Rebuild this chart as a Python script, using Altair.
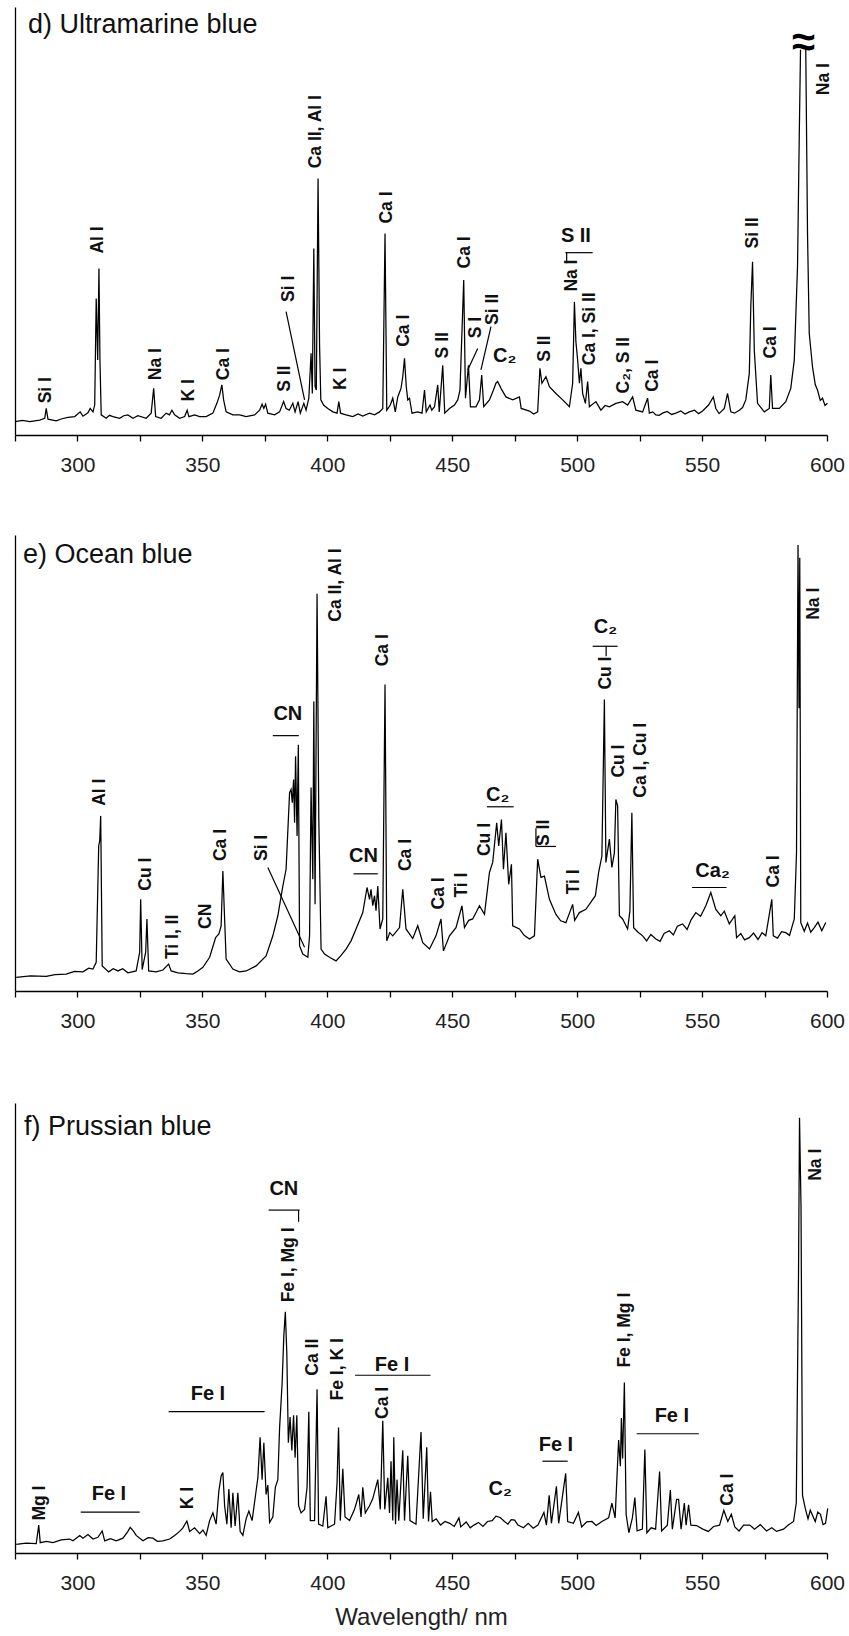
import altair as alt
import pandas as pd

FONT = "Liberation Sans"

# ---------------- Panel d) Ultramarine blue : (wavelength nm, relative intensity %) ----------------
d_spectrum = [
    (275.1, 3.1), (278.0, 3.4), (280.9, 3.1), (284.9, 3.5), (286.9, 3.9), (287.5, 6.2), (288.2, 3.7), (291.5, 3.3),
    (293.8, 3.8), (296.2, 4.1), (298.9, 4.3), (301.1, 5.4), (302.2, 4.4), (304.2, 5.2), (305.1, 6.2), (306.2, 5.4),
    (306.9, 7.0), (307.5, 31.9), (308.1, 17.5), (308.6, 38.9), (309.0, 17.5), (309.5, 4.7), (311.5, 3.9), (312.8, 4.6),
    (314.2, 4.3), (316.9, 3.9), (318.5, 4.5), (320.2, 4.7), (322.2, 3.9), (324.2, 4.5), (327.5, 3.9), (329.5, 5.1),
    (330.5, 10.9), (331.3, 4.3), (333.5, 3.9), (335.5, 5.1), (336.8, 4.7), (337.8, 5.8), (338.9, 4.7), (340.9, 3.9),
    (342.9, 4.3), (343.9, 5.8), (344.6, 4.3), (346.9, 4.7), (348.9, 4.3), (351.5, 4.3), (354.2, 5.1), (355.8, 7.4),
    (356.9, 9.3), (357.8, 11.7), (358.5, 8.2), (359.5, 5.4), (362.2, 4.7), (364.9, 4.7), (367.5, 4.3), (370.9, 4.7),
    (372.9, 5.8), (373.9, 7.2), (374.6, 6.2), (375.3, 7.2), (376.2, 5.1), (378.9, 4.7), (380.9, 5.4), (382.5, 7.8),
    (383.5, 6.2), (384.8, 5.8), (386.2, 7.4), (387.1, 5.4), (388.3, 7.8), (389.2, 5.1), (390.6, 7.4), (391.5, 5.8),
    (392.6, 8.6), (393.5, 19.1), (394.0, 9.7), (394.6, 43.6), (395.1, 11.3), (395.6, 10.5), (396.3, 59.9), (396.9, 21.0),
    (397.4, 8.2), (398.5, 7.0), (400.2, 6.2), (402.2, 5.4), (403.9, 5.1), (404.6, 7.8), (405.3, 5.1), (407.5, 4.7),
    (410.2, 4.3), (412.3, 4.9), (414.2, 4.4), (416.9, 5.1), (418.9, 4.7), (420.9, 5.4), (422.2, 6.2), (423.1, 47.1),
    (423.8, 5.8), (425.2, 7.0), (426.2, 8.6), (427.2, 5.4), (428.2, 8.9), (429.5, 10.9), (430.2, 13.6), (430.9, 17.9),
    (431.6, 11.3), (432.2, 8.2), (432.9, 8.6), (433.9, 5.1), (436.2, 5.4), (437.9, 5.1), (438.9, 10.5), (439.6, 5.4),
    (441.1, 7.0), (441.8, 5.8), (442.9, 6.6), (444.2, 11.7), (444.8, 5.4), (446.2, 16.3), (447.0, 5.1), (448.9, 6.2),
    (450.9, 7.0), (452.2, 8.2), (453.1, 10.5), (454.6, 36.2), (455.3, 8.6), (456.5, 16.3), (457.3, 6.6), (459.5, 6.6),
    (460.9, 8.2), (461.8, 14.0), (462.6, 6.6), (464.9, 8.2), (466.5, 10.5), (467.5, 12.1), (468.2, 12.5), (469.5, 10.9),
    (471.5, 8.9), (474.2, 8.2), (476.9, 8.9), (477.6, 6.2), (480.9, 5.6), (482.6, 4.9), (484.2, 5.4), (485.1, 15.6),
    (485.9, 12.1), (487.5, 13.6), (488.9, 11.3), (491.5, 9.7), (494.2, 8.2), (496.9, 6.6), (498.2, 12.1), (498.9, 31.1),
    (499.5, 21.8), (500.2, 17.5), (500.9, 12.1), (501.5, 15.6), (502.2, 9.7), (503.3, 7.4), (504.2, 12.5), (504.9, 6.6),
    (507.5, 7.8), (509.5, 5.8), (511.2, 6.9), (512.9, 6.6), (515.5, 7.4), (518.2, 7.8), (520.2, 7.0), (522.2, 8.9),
    (523.5, 5.8), (526.2, 5.4), (528.2, 8.6), (528.9, 5.1), (530.3, 5.4), (531.5, 4.7), (532.8, 4.6), (534.2, 5.1),
    (536.0, 5.5), (537.8, 4.8), (539.5, 5.1), (541.5, 5.6), (543.2, 4.9), (544.9, 5.4), (547.0, 5.8), (548.6, 5.0),
    (550.2, 5.6), (552.6, 7.0), (554.5, 8.9), (555.5, 6.2), (556.8, 5.0), (558.9, 6.2), (560.2, 9.7), (561.5, 5.4),
    (563.0, 5.1), (564.9, 5.8), (566.2, 6.4), (567.5, 8.2), (568.9, 14.4), (569.5, 30.0), (570.2, 40.5), (570.9, 19.8),
    (572.2, 7.4), (574.9, 5.4), (576.9, 6.2), (577.5, 14.0), (578.2, 6.2), (580.9, 6.2), (583.5, 7.8), (585.5, 10.9),
    (586.9, 17.5), (588.2, 39.3), (588.9, 70.0), (589.4, 90.0), (591.5, 90.0), (592.2, 47.1), (592.9, 23.7),
    (594.2, 15.9), (595.3, 11.8), (596.2, 10.5), (597.3, 8.1), (598.2, 8.6), (599.2, 6.9), (600.2, 7.4),
]
d_break_at = 590.0  # the Na I line is cut at its top (wavy break sign)

d_rot_text = ["Si I", "Al I", "Na I", "K I", "Ca I", "S II", "Si I", "Ca II, Al I", "K I", "Ca I", "Ca I",
              "S II", "Ca I", "S I", "Si II", "S II", "Na I", "Ca I, Si II", "C₂, S II", "Ca I", "Si II", "Ca I", "Na I"]
d_rot_wl = [287.3, 308.2, 331.3, 344.5, 358.5, 382.9, 384.5, 395.5, 405.5, 423.9, 430.6,
            446.2, 455.3, 459.5, 466.5, 487.1, 497.8, 505.3, 518.9, 530.2, 570.2, 577.5, 598.9]
d_rot_y = [7.4, 42.4, 12.8, 7.8, 12.8, 10.1, 31.1, 62.3, 10.5, 49.4, 20.6,
           17.9, 38.9, 22.6, 25.7, 17.1, 33.5, 16.3, 9.7, 10.1, 43.6, 17.9, 79.4]

d_hor_text = ["C₂", "S II"]
d_hor_wl = [471.0, 499.5]
d_hor_y = [17.1, 45.1]

d_break_text = ["≈"]
d_break_wl = [590.6]
d_break_y = [91.5]

d_ln_x1 = [383.5, 460.2, 465.5, 495.3, 495.8]
d_ln_x2 = [390.9, 456.2, 461.5, 506.2, 495.8]
d_ln_y1 = [28.8, 20.2, 25.3, 42.6, 42.6]
d_ln_y2 = [8.2, 15.2, 15.2, 42.6, 40.1]

# ---------------- Panel e) Ocean blue ----------------
e_spectrum = [
    (275.5, 3.0), (281.2, 3.3), (287.5, 3.2), (291.0, 3.6), (295.5, 3.7), (298.8, 4.3), (302.2, 4.2), (304.5, 5.0),
    (306.2, 4.8), (307.5, 6.3), (308.5, 31.8), (308.9, 32.9), (309.3, 38.4), (309.9, 5.5), (312.5, 4.2), (314.3, 4.9),
    (316.2, 4.4), (318.1, 4.9), (320.2, 4.0), (323.5, 4.4), (324.9, 8.5), (325.3, 20.1), (325.9, 4.7), (327.3, 8.5),
    (327.8, 15.8), (328.5, 4.4), (331.5, 4.2), (334.2, 4.6), (336.5, 5.9), (337.5, 4.4), (340.2, 4.0), (343.5, 3.8),
    (346.2, 3.7), (348.2, 4.4), (350.2, 5.2), (352.9, 7.4), (355.3, 11.7), (356.6, 12.5), (357.5, 14.3), (358.2, 26.3),
    (358.9, 15.8), (359.5, 7.0), (362.2, 4.8), (364.8, 4.2), (367.5, 4.4), (371.5, 5.5), (375.5, 7.7), (378.2, 12.1),
    (380.2, 16.5), (382.2, 23.0), (383.5, 26.7), (384.9, 43.5), (385.5, 44.2), (386.0, 41.3), (386.5, 46.4),
    (386.9, 36.9), (387.3, 51.5), (387.9, 34.0), (388.4, 54.0), (388.9, 9.9), (390.2, 8.1), (392.2, 7.4),
    (392.9, 12.1), (393.5, 44.6), (394.2, 24.5), (394.6, 63.5), (395.1, 19.0), (395.9, 87.1), (396.6, 37.6),
    (397.5, 9.2), (398.9, 8.1), (401.2, 7.3), (403.5, 6.6), (405.5, 7.8), (407.5, 9.2), (409.5, 11.0), (411.5, 13.6),
    (414.2, 17.2), (415.9, 22.7), (416.9, 20.1), (417.5, 22.3), (418.2, 18.7), (418.9, 20.9), (419.5, 17.6),
    (420.2, 23.0), (421.1, 13.6), (422.2, 15.8), (423.1, 67.2), (423.8, 11.0), (425.0, 12.8), (426.2, 12.1),
    (428.9, 13.9), (430.2, 22.3), (431.5, 13.6), (434.2, 11.5), (436.2, 14.3), (438.2, 10.6), (440.9, 9.2),
    (443.5, 12.1), (445.5, 15.8), (446.5, 8.8), (448.9, 12.1), (451.5, 13.9), (453.9, 18.7), (454.9, 13.9),
    (456.6, 15.5), (458.2, 15.8), (460.9, 18.7), (462.9, 16.8), (464.9, 26.0), (466.2, 28.2), (467.8, 36.9),
    (468.6, 31.8), (469.7, 37.6), (470.5, 26.7), (471.5, 34.7), (472.6, 23.4), (473.7, 27.8), (474.2, 14.3),
    (476.9, 13.6), (478.8, 12.2), (480.9, 11.4), (482.9, 12.1), (484.2, 28.9), (485.5, 24.9), (486.9, 25.2),
    (488.9, 20.1), (491.5, 16.8), (493.4, 15.4), (495.5, 15.0), (498.2, 19.0), (499.0, 15.5), (500.9, 17.2),
    (503.5, 17.9), (505.5, 19.5), (507.3, 20.9), (508.6, 26.0), (509.9, 29.6), (510.9, 63.9), (511.5, 28.2),
    (512.9, 33.3), (513.9, 27.1), (514.9, 30.3), (515.5, 42.0), (516.2, 40.6), (516.9, 16.5), (518.2, 15.8),
    (520.2, 13.6), (521.1, 17.5), (521.9, 39.1), (522.6, 13.9), (524.4, 12.9), (526.2, 12.1), (527.8, 11.0),
    (529.5, 12.4), (531.5, 11.4), (533.2, 10.9), (534.8, 12.6), (536.9, 13.2), (538.5, 12.3), (540.1, 14.2),
    (542.2, 14.7), (544.0, 13.5), (545.6, 15.6), (547.5, 17.2), (549.4, 16.4), (551.5, 18.7), (553.5, 21.6),
    (555.5, 17.9), (557.5, 16.5), (558.9, 17.5), (560.9, 14.7), (563.1, 16.5), (563.8, 11.7), (565.5, 12.6),
    (567.0, 11.2), (568.9, 11.7), (570.6, 12.7), (572.4, 11.3), (574.0, 12.8), (575.5, 12.1), (577.9, 20.1),
    (578.5, 12.1), (580.2, 11.6), (581.8, 13.0), (583.5, 12.8), (585.0, 12.2), (586.9, 15.8), (587.8, 30.3),
    (588.4, 97.8), (588.8, 62.0), (589.1, 95.0), (589.5, 15.0), (590.9, 13.1), (592.2, 14.9), (593.5, 12.9),
    (594.9, 13.9), (596.4, 15.1), (597.9, 13.2), (599.5, 15.0),
]

e_rot_text = ["Al I", "Cu I", "Ti I, II", "CN", "Ca I", "Si I", "Ca II, Al I", "Ca I", "Ca I", "Ca I", "Ti I",
              "Cu I", "S II", "Ti I", "Cu I", "Cu I", "Ca I, Cu I", "Ca I", "Na I"]
e_rot_wl = [308.9, 327.3, 338.2, 351.5, 357.5, 373.8, 403.5, 422.2, 431.5, 444.9, 453.9,
            463.3, 486.9, 498.9, 511.5, 516.9, 525.5, 578.9, 594.9]
e_rot_y = [40.6, 22.0, 7.0, 13.6, 28.5, 28.5, 81.0, 71.2, 26.3, 17.9, 20.5,
           29.6, 31.8, 21.2, 66.1, 46.8, 42.4, 22.7, 81.4]

e_hor_text = ["CN", "CN", "C₂", "C₂", "Ca₂"]
e_hor_wl = [384.2, 414.5, 468.2, 511.3, 554.2]
e_hor_y = [59.5, 28.2, 41.6, 78.5, 25.0]

e_ln_x1 = [376.2, 378.2, 410.5, 463.9, 483.5, 483.5, 506.2, 511.6, 546.0]
e_ln_x2 = [390.9, 388.6, 420.2, 474.6, 483.5, 491.5, 516.2, 511.6, 559.8]
e_ln_y1 = [27.1, 56.0, 25.7, 40.4, 31.7, 31.7, 75.6, 73.4, 22.7]
e_ln_y2 = [9.6, 56.0, 25.7, 40.4, 35.7, 31.7, 75.6, 75.6, 22.7]

# ---------------- Panel f) Prussian blue ----------------
f_spectrum = [
    (275.5, 1.9), (279.4, 2.2), (283.5, 2.1), (284.5, 6.2), (285.1, 2.3), (287.6, 2.6), (290.2, 2.3), (293.5, 2.9),
    (296.9, 3.1), (298.2, 2.7), (300.9, 3.9), (302.2, 3.3), (304.2, 4.1), (306.2, 3.1), (308.2, 3.5), (309.9, 4.9),
    (310.9, 2.7), (313.2, 3.2), (315.5, 2.7), (318.2, 3.3), (320.2, 4.8), (321.1, 5.7), (322.5, 4.8), (323.5, 3.9),
    (326.2, 2.7), (328.3, 3.4), (330.2, 3.3), (332.0, 2.6), (334.2, 2.7), (336.9, 3.1), (338.9, 3.9), (340.9, 4.8),
    (342.2, 5.6), (343.8, 7.1), (344.9, 4.8), (346.9, 5.6), (348.9, 4.3), (350.2, 5.1), (351.5, 3.9), (352.9, 7.2),
    (354.2, 8.9), (355.5, 6.4), (356.6, 13.8), (357.5, 17.1), (358.2, 17.9), (358.9, 10.5), (359.8, 6.4),
    (360.6, 14.2), (361.5, 5.6), (362.2, 13.4), (363.1, 6.0), (364.2, 13.4), (365.1, 4.8), (366.2, 3.9), (367.5, 7.6),
    (368.6, 9.3), (369.9, 7.2), (371.3, 13.0), (372.2, 16.7), (373.1, 25.7), (373.9, 16.3), (374.6, 24.5),
    (375.5, 13.0), (376.2, 15.1), (376.9, 6.8), (378.2, 8.0), (379.2, 14.6), (380.2, 16.3), (380.9, 27.8),
    (381.9, 37.6), (382.6, 48.3), (383.2, 53.6), (383.8, 44.2), (384.4, 24.5), (385.1, 30.2), (385.8, 22.8),
    (386.5, 30.6), (387.1, 21.2), (387.8, 30.6), (388.5, 10.5), (389.5, 8.9), (390.9, 9.7), (391.9, 14.6),
    (392.6, 31.4), (393.2, 7.2), (394.9, 7.2), (395.9, 36.4), (396.5, 6.4), (398.2, 6.0), (399.5, 12.6), (400.2, 5.6),
    (402.9, 6.4), (403.9, 15.6), (404.5, 27.9), (405.2, 7.2), (406.2, 18.7), (407.1, 8.0), (408.9, 7.2), (410.9, 9.7),
    (412.6, 13.0), (413.5, 8.0), (414.2, 14.6), (415.2, 8.9), (416.9, 10.5), (418.2, 12.1), (420.2, 16.3),
    (421.2, 9.7), (422.2, 29.4), (423.0, 9.7), (424.2, 16.7), (424.9, 8.9), (425.5, 20.4), (426.2, 7.2),
    (426.6, 25.7), (427.3, 6.4), (427.9, 16.3), (428.6, 7.2), (430.2, 22.8), (430.9, 7.2), (432.2, 21.6),
    (433.1, 7.2), (435.5, 6.4), (437.5, 26.9), (438.4, 7.6), (439.8, 23.5), (440.5, 7.0), (441.3, 13.6), (442.0, 7.0),
    (443.6, 7.6), (445.3, 6.2), (447.1, 7.0), (449.0, 6.6), (450.8, 5.9), (452.7, 7.8), (453.4, 5.8), (455.6, 6.9),
    (457.2, 5.6), (458.7, 6.2), (460.5, 6.8), (462.3, 5.9), (464.1, 7.0), (466.0, 7.2), (467.5, 8.2), (469.2, 7.9),
    (470.9, 7.0), (472.3, 6.4), (473.6, 7.4), (475.0, 7.3), (476.3, 6.2), (478.5, 5.6), (480.4, 6.6), (482.4, 5.5),
    (484.3, 6.2), (486.7, 9.0), (487.7, 6.2), (488.8, 12.8), (489.7, 6.6), (491.7, 14.8), (492.6, 6.6), (495.4, 17.7),
    (496.2, 7.0), (498.5, 6.6), (500.5, 9.0), (501.8, 5.8), (503.8, 6.9), (505.9, 7.0), (507.6, 6.1), (509.9, 7.0),
    (512.6, 7.8), (513.9, 11.1), (515.2, 7.8), (516.6, 25.1), (517.3, 19.3), (517.7, 30.0), (518.2, 21.0),
    (518.9, 37.9), (519.6, 8.6), (520.7, 4.5), (522.1, 7.8), (523.1, 12.3), (524.0, 4.9), (526.1, 5.3), (527.1, 23.0),
    (527.9, 4.5), (529.6, 5.6), (531.4, 5.3), (533.0, 18.1), (533.8, 4.9), (536.1, 6.2), (537.3, 14.0), (538.1, 5.3),
    (539.8, 11.9), (540.6, 11.9), (541.6, 5.3), (542.9, 11.1), (543.6, 6.2), (544.6, 10.7), (545.5, 6.2),
    (547.8, 6.1), (550.3, 5.3), (552.5, 4.8), (554.6, 5.9), (557.0, 6.2), (558.7, 9.5), (560.3, 7.0), (561.7, 8.6),
    (563.1, 5.8), (564.8, 4.9), (566.6, 6.2), (569.1, 6.2), (571.0, 5.3), (573.3, 6.3), (575.8, 4.9), (577.9, 5.6),
    (579.8, 4.8), (582.6, 5.3), (584.5, 6.2), (586.6, 7.0), (587.7, 11.1), (588.6, 62.0), (589.0, 96.7),
    (589.6, 77.0), (590.2, 12.8), (591.3, 9.9), (592.4, 7.6), (593.3, 9.5), (595.3, 7.0), (596.3, 9.1),
    (597.4, 8.6), (598.4, 6.3), (599.4, 6.6), (600.3, 9.9),
]

f_rot_text = ["Mg I", "K I", "Fe I, Mg I", "Ca II", "Fe I, K I", "Ca I", "Fe I, Mg I", "Ca I", "Na I"]
f_rot_wl = [284.9, 344.2, 384.5, 394.2, 404.2, 422.2, 519.3, 560.4, 595.4]
f_rot_y = [7.2, 9.7, 55.7, 39.4, 33.9, 29.8, 41.2, 10.5, 82.7]

f_hor_text = ["Fe I", "Fe I", "CN", "Fe I", "C₂", "Fe I", "Fe I"]
f_hor_wl = [312.6, 352.2, 382.6, 425.9, 469.2, 491.5, 537.9]
f_hor_y = [11.7, 33.9, 79.5, 40.5, 12.8, 22.6, 29.2]

f_ln_x1 = [301.3, 336.5, 376.5, 388.5, 411.1, 486.1, 523.8]
f_ln_x2 = [324.9, 374.9, 388.9, 388.5, 441.3, 496.2, 548.7]
f_ln_y1 = [9.1, 31.4, 76.2, 73.6, 39.5, 20.4, 26.5]
f_ln_y2 = [9.1, 31.4, 76.2, 76.2, 39.5, 20.4, 26.5]

tick_values = [275, 300, 325, 350, 375, 400, 425, 450, 475, 500, 525, 550, 575, 600]


def spectrum_frame(points, break_at=None):
    df = pd.DataFrame(points, columns=["wl", "val"])
    if break_at is None:
        df["seg"] = 0
    else:
        df["seg"] = (df["wl"] > break_at).astype(int)
    return df


def panel(title, title_xy, spec_df, rot, hor, lines, height, xtitle=None, extra=None):
    xscale = alt.Scale(domain=[275, 600], nice=False, zero=False)
    yscale = alt.Scale(domain=[0, 100], nice=False, zero=False)
    xaxis = alt.Axis(values=tick_values, labelExpr="datum.value % 50 == 0 ? datum.label : ''",
                     tickSize=6, tickWidth=1.3, tickColor="black", domainColor="black", domainWidth=1.3,
                     labelFont=FONT, labelFontSize=21, labelColor="#222222", labelPadding=13,
                     labelFlush=False, labelOverlap=False, grid=False,
                     title=xtitle if xtitle is not None else "", titleFont=FONT, titleFontSize=24,
                     titleFontWeight="normal", titleColor="#222222", titlePadding=12)
    yaxis = alt.Axis(labels=False, ticks=False, title="", grid=False,
                     domainColor="black", domainWidth=1.3)

    def X(field):
        return alt.X(field, type="quantitative", scale=xscale, axis=xaxis)

    def Y(field):
        return alt.Y(field, type="quantitative", scale=yscale, axis=yaxis)

    line = alt.Chart(spec_df).mark_line(color="black", strokeWidth=1.25).encode(
        x=X("wl"), y=Y("val"), detail="seg:N", order="wl:Q")

    rot_df = pd.DataFrame({"t": rot[0], "wl": rot[1], "val": rot[2]})
    rot_layer = alt.Chart(rot_df).mark_text(
        angle=270, align="left", baseline="middle", font=FONT, fontWeight="bold",
        fontSize=17.5, color="#111111").encode(x=X("wl"), y=Y("val"), text="t:N")

    hor_df = pd.DataFrame({"t": hor[0], "wl": hor[1], "val": hor[2]})
    hor_layer = alt.Chart(hor_df).mark_text(
        align="center", baseline="alphabetic", font=FONT, fontWeight="bold",
        fontSize=20, color="#111111").encode(x=X("wl"), y=Y("val"), text="t:N")

    ln_df = pd.DataFrame({"wl": lines[0], "x2": lines[1], "val": lines[2], "y2": lines[3]})
    ln_layer = alt.Chart(ln_df).mark_rule(color="black", strokeWidth=1.2).encode(
        x=X("wl"), x2="x2:Q", y=Y("val"), y2="y2:Q")

    title_df = pd.DataFrame({"t": [title]})
    title_layer = alt.Chart(title_df).mark_text(
        align="left", baseline="alphabetic", font=FONT, fontSize=27, color="#111111").encode(
        x=alt.value(title_xy[0]), y=alt.value(title_xy[1]), text="t:N")

    layers = [line, ln_layer, rot_layer, hor_layer, title_layer]
    if extra is not None:
        ex_df = pd.DataFrame({"t": extra[0], "wl": extra[1], "val": extra[2]})
        layers.append(alt.Chart(ex_df).mark_text(
            align="center", baseline="middle", font=FONT, fontWeight="bold",
            fontSize=42, color="black").encode(x=X("wl"), y=Y("val"), text="t:N"))
    return alt.layer(*layers).properties(width=812, height=height)


d_chart = panel("d) Ultramarine blue", (13, 26), spectrum_frame(d_spectrum, d_break_at),
                (d_rot_text, d_rot_wl, d_rot_y), (d_hor_text, d_hor_wl, d_hor_y),
                (d_ln_x1, d_ln_x2, d_ln_y1, d_ln_y2), 428,
                extra=(d_break_text, d_break_wl, d_break_y))
e_chart = panel("e) Ocean blue", (8, 28), spectrum_frame(e_spectrum),
                (e_rot_text, e_rot_wl, e_rot_y), (e_hor_text, e_hor_wl, e_hor_y),
                (e_ln_x1, e_ln_x2, e_ln_y1, e_ln_y2), 456)
f_chart = panel("f) Prussian blue", (9, 32), spectrum_frame(f_spectrum),
                (f_rot_text, f_rot_wl, f_rot_y), (f_hor_text, f_hor_wl, f_hor_y),
                (f_ln_x1, f_ln_x2, f_ln_y1, f_ln_y2), 450, xtitle="Wavelength/ nm")

chart = alt.vconcat(
    d_chart,
    alt.vconcat(e_chart, f_chart, spacing=72),
    spacing=60,
).properties(
    padding={"left": 12, "top": 7, "right": 4, "bottom": 2},
    background="white",
).configure_view(stroke=None)

chart.save("out.html", embed_options={"renderer": "svg", "actions": False})
